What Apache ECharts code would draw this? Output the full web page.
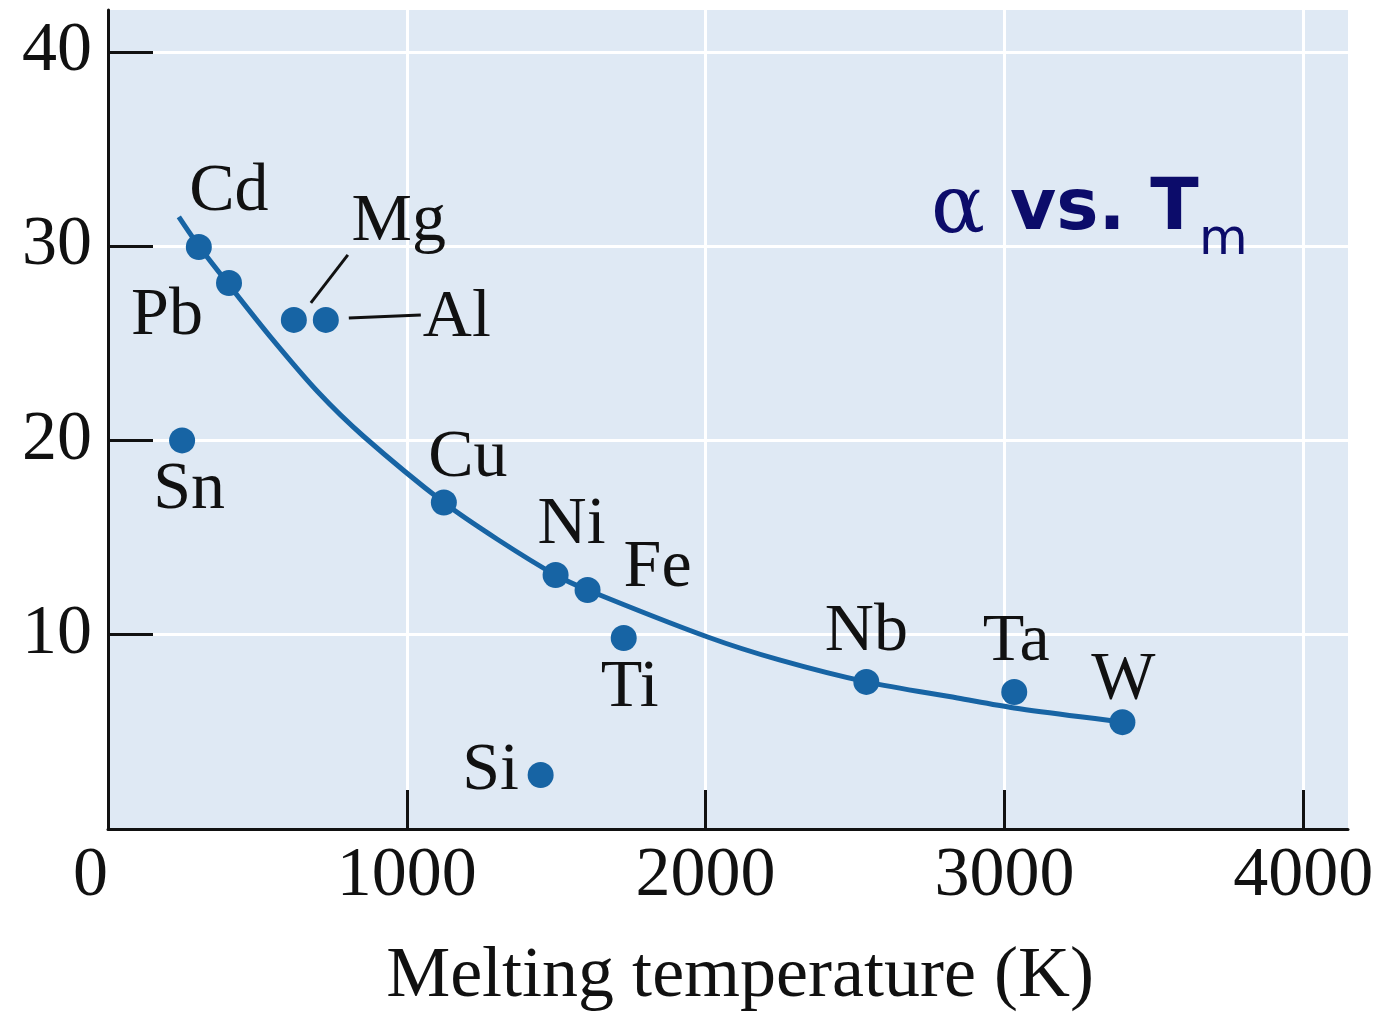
<!DOCTYPE html>
<html>
<head>
<meta charset="utf-8">
<script src="https://cdn.jsdelivr.net/npm/echarts@6/dist/echarts.min.js"></script>
<style>
  html, body { margin: 0; padding: 0; background: #ffffff; }
  #chart { width: 1385px; height: 1014px; }
</style>
</head>
<body>
<div id="chart"></div>
<script>
// ---- data ----
const elements     = ['Cd', 'Pb', 'Mg', 'Al', 'Sn', 'Cu', 'Ni', 'Fe', 'Ti', 'Si', 'Nb', 'Ta', 'W'];
const meltingTemp  = [304, 405, 622, 729, 248, 1124, 1498, 1605, 1726, 1448, 2538, 3033, 3395];
const alphaValues  = [29.95, 28.1, 26.2, 26.2, 20.0, 16.8, 13.07, 12.3, 9.83, 2.78, 7.57, 7.05, 5.5];

const curveTemp    = [237, 304, 405, 545, 702, 856, 1124, 1304, 1498, 1605, 2007, 2247, 2538, 2843, 3033, 3395];
const curveAlpha   = [31.5, 30.0, 28.0, 25.3, 22.5, 20.2, 16.8, 14.9, 13.07, 12.3, 9.88, 8.70, 7.57, 6.74, 6.23, 5.5];

const xTickLabels  = [0, 1000, 2000, 3000, 4000];
const yTickLabels  = [10, 20, 30, 40];
const xAxisTitle   = 'Melting temperature (K)';

// ---- label placement (layout, in pixels relative to each point) ----
const labelOffsets = {
  Cd: [30, -55], Pb: [-62, 33], Mg: [105, -98], Al: [131, -2], Sn: [7, 50],
  Cu: [24, -44], Ni: [16, -50], Fe: [70, -22], Ti: [6, 50], Si: [-50, -4],
  Nb: [0, -50], Ta: [2, -50], W: [1, -42]
};

const BLUE = '#1764a4';
const INK = '#111111';
const SERIF = "'Liberation Serif', 'DejaVu Serif', serif";

const scatterData = elements.map((name, i) => ({
  name: name,
  value: [meltingTemp[i], alphaValues[i]],
  label: { offset: labelOffsets[name] }
}));
const curveData = curveTemp.map((t, i) => [t, curveAlpha[i]]);

const chart = echarts.init(document.getElementById('chart'), null, { renderer: 'canvas' });

const option = {
  backgroundColor: '#ffffff',
  animation: false,
  grid: {
    left: 108, right: 37, top: 10, bottom: 185,
    show: true, backgroundColor: '#dfe9f4', borderWidth: 0,
    outerBoundsMode: 'none'
  },
  xAxis: {
    type: 'value', min: 0, max: 4150, interval: 1000,
    name: xAxisTitle, nameLocation: 'middle', nameGap: 112,
    nameTextStyle: { fontFamily: SERIF, fontSize: 72, color: INK, padding: [0, 0, 0, 24] },
    axisLine: { show: true, onZero: false, lineStyle: { color: INK, width: 3 } },
    axisTick: { show: true, inside: true, length: 39, lineStyle: { color: INK, width: 3 },
                customValues: [1000, 2000, 3000, 4000] },
    axisLabel: { customValues: xTickLabels, fontFamily: SERIF, fontSize: 70, color: INK, margin: 13,
                 alignMinLabel: 'right', formatter: v => String(v) },
    splitLine: { show: true, lineStyle: { color: '#ffffff', width: 3 } }
  },
  yAxis: {
    type: 'value', min: 0, max: 42.15, interval: 10,
    axisLine: { show: true, onZero: false, lineStyle: { color: INK, width: 3 } },
    axisTick: { show: true, inside: true, length: 45, lineStyle: { color: INK, width: 3 },
                customValues: yTickLabels },
    axisLabel: { customValues: yTickLabels, fontFamily: SERIF, fontSize: 70, color: INK, margin: 16,
                 formatter: v => String(v) },
    splitLine: { show: true, lineStyle: { color: '#ffffff', width: 3 } }
  },
  series: [
    {
      type: 'line', data: curveData, smooth: 0.3,
      showSymbol: false, symbol: 'none',
      lineStyle: { color: BLUE, width: 5 }, z: 2, silent: true
    },
    {
      type: 'scatter', data: scatterData, symbol: 'circle', symbolSize: 26,
      itemStyle: { color: BLUE, opacity: 1 }, z: 3,
      label: {
        show: true, position: 'inside', formatter: '{b}',
        fontFamily: SERIF, fontSize: 68, color: INK, opacity: 1,
        align: 'center', verticalAlign: 'middle'
      }
    }
  ],
  graphic: [
    { type: 'text', x: 931, y: 251, z: 10,
      style: { text: 'α', font: "80px 'DejaVu Serif'", fill: '#0c0c6a', align: 'left', verticalAlign: 'bottom' } },
    { type: 'text', x: 1010, y: 246, z: 10,
      style: { text: 'vs. T', font: "bold 71px 'DejaVu Sans'", fill: '#0c0c6a', align: 'left', verticalAlign: 'bottom' } },
    { type: 'text', x: 1199, y: 266, z: 10,
      style: { text: 'm', font: "50px 'DejaVu Sans'", fill: '#0c0c6a', align: 'left', verticalAlign: 'bottom' } }
  ]
};
chart.setOption(option);

// leader lines for Mg and Al, anchored on the points through the chart's own scales
const leaderSpecs = [
  { name: 'Mg', from: [17, -17], to: [54, -65] },
  { name: 'Al', from: [23, -2], to: [95, -5] }
];
const leaderGraphics = leaderSpecs.map(spec => {
  const i = elements.indexOf(spec.name);
  const p = chart.convertToPixel({ gridIndex: 0 }, [meltingTemp[i], alphaValues[i]]);
  return {
    type: 'line', z: 5,
    shape: { x1: p[0] + spec.from[0], y1: p[1] + spec.from[1], x2: p[0] + spec.to[0], y2: p[1] + spec.to[1] },
    style: { stroke: INK, lineWidth: 3 }
  };
});
chart.setOption({ graphic: option.graphic.concat(leaderGraphics) });
</script>
</body>
</html>
